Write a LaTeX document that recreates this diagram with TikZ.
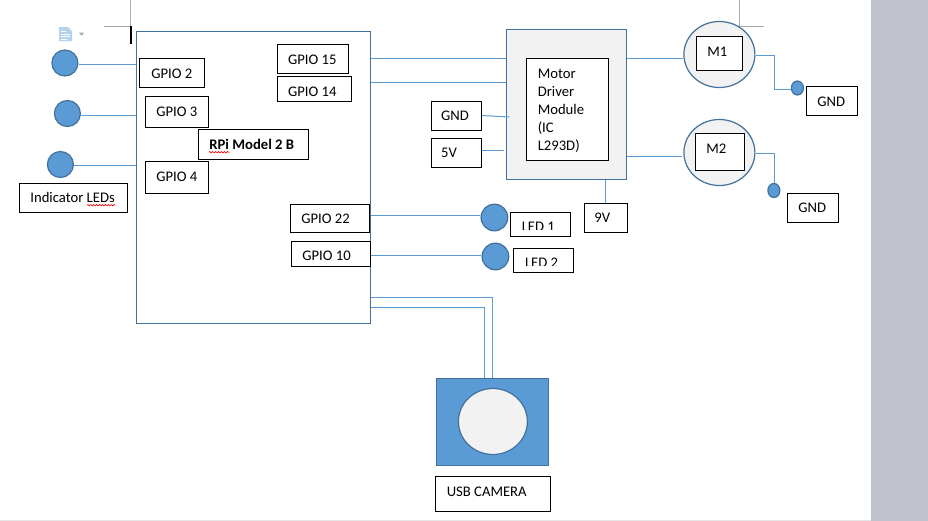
\documentclass[tikz,border=0pt]{standalone}
\usepackage{fontspec}
\setmainfont{Carlito}
\usetikzlibrary{decorations.pathmorphing,shapes.geometric}
\definecolor{wirec}{HTML}{5B9BD5}
\definecolor{edgec}{HTML}{41719C}
\definecolor{panel}{HTML}{F2F2F2}
\definecolor{sidebar}{HTML}{BFC2CC}
\definecolor{markc}{HTML}{ABABAB}
\tikzset{
  labelbox/.style={draw=black,line width=0.75pt,fill=white,inner sep=0pt,anchor=north west},
  txt/.style={inner sep=0pt,anchor=base west,xshift=0.3pt,yshift=-0.5pt,font=\fontsize{11pt}{13pt}\selectfont,text=black},
  wire/.style={draw=wirec,line width=0.75pt},
  panelbox/.style={draw=edgec,line width=0.9pt,fill=panel,inner sep=0pt,anchor=north west},
  dot/.style={ellipse,draw=edgec,line width=0.9pt,fill=wirec,inner sep=0pt},
  squig/.style={draw=red,line width=0.5pt,decorate,decoration={snake,amplitude=0.5pt,segment length=2.2pt}},
  pagemark/.style={draw=markc,line width=0.75pt}
}
% name, x1, y1, x2, y2 (pixels)
\newcommand{\pbox}[6][labelbox]{%
  \pgfmathsetmacro{\bw}{(#5-#3)*0.75}\pgfmathsetmacro{\bh}{(#6-#4)*0.75}%
  \node[#1,minimum width=\bw pt,minimum height=\bh pt] (#2) at (#3,#4) {};}
\newcommand{\ptext}[3]{\node[txt] at (#1,#2) {#3};}
\begin{document}
\begin{tikzpicture}[x=0.75pt,y=-0.75pt]
\useasboundingbox (0,0) rectangle (928,521);
\fill[white] (0,0) rectangle (928,521);
\fill[sidebar] (871,0) rectangle (928,521);
\fill[black!10] (0,519.5) rectangle (871,521);
\begin{scope}[shift={(-0.6,-0.3)}]
% page marks
\draw[pagemark] (131,0) -- (131,26.8) -- (105,26.8);
\draw[pagemark] (740,0) -- (740,26.8) -- (765,26.8);
\draw[black,line width=1.5pt] (131.4,26) -- (131.4,44);
% paste icon
\fill[wirec!45] (59.6,27.5) -- (68.6,27.5) -- (72.6,31.5) -- (72.6,41.5) -- (59.6,41.5) -- cycle;
\draw[white,line width=0.6pt] (61.6,32) -- (66.6,32) (61.6,34.5) -- (70.6,34.5) (61.6,37) -- (70.6,37) (61.6,39.5) -- (67.6,39.5);
\fill[black!35] (79.6,33) -- (84.6,33) -- (82.1,36) -- cycle;
% main board
\pbox[panelbox,fill=white]{rpi}{136.5}{31.5}{370.5}{323}
\pbox{gp2}{140}{58.5}{204.5}{87.5}
\pbox{gp3}{145.5}{96.5}{208.5}{127}
\pbox{model}{198.5}{129.5}{308.5}{159}
\pbox{gp4}{145.5}{161.5}{208.5}{193}
\pbox{gp15}{277.5}{44.5}{348.5}{73.5}
\pbox{gp14}{277.5}{76.5}{351.5}{101.5}
\pbox{gp22}{290.5}{204.5}{369.5}{232.5}
\pbox{gp10}{291.5}{241.5}{370.5}{266.5}
\pbox{ind}{19.5}{183.5}{127.5}{212}
\ptext{151.3}{78}{GPIO 2}
\ptext{156.3}{116}{GPIO 3}
\ptext{156.3}{181}{GPIO 4}
\ptext{209.3}{148.7}{\textbf{RPi Model 2 B}}
\ptext{288}{64}{GPIO 15}
\ptext{288}{96}{GPIO 14}
\ptext{301.3}{223}{GPIO 22}
\ptext{302.3}{260}{GPIO 10}
\ptext{30.3}{201.7}{Indicator LEDs}
\draw[squig] (209.5,152.5) -- (230,152.5);
\draw[squig] (87.5,205.5) -- (116,205.5);
% indicator LEDs
\node[dot,minimum width=19.5pt,minimum height=19.5pt] (c1) at (65.5,63.3) {};
\node[dot,minimum width=19.5pt,minimum height=19.5pt] (c2) at (68,113.8) {};
\node[dot,minimum width=19.5pt,minimum height=19.5pt] (c3) at (61,164.8) {};
\coordinate (y1) at (0,64.8);\coordinate (y2) at (0,115.8);\coordinate (y3) at (0,165.8);
\draw[wire] (c1.east |- y1) -- (rpi.west |- y1);
\draw[wire] (c2.east |- y2) -- (rpi.west |- y2);
\draw[wire] (c3.east |- y3) -- (rpi.west |- y3);
% driver
\pbox[panelbox]{drv}{506.5}{29.5}{626.5}{179.5}
\pbox{ic}{526.5}{58.5}{608.5}{160.5}
\ptext{537.7}{78}{Motor}
\ptext{537.7}{96}{Driver}
\ptext{537.7}{114}{Module}
\ptext{537.7}{132}{(IC}
\ptext{537.7}{150}{L293D)}
\coordinate (y15) at (0,58.8);\coordinate (y14) at (0,82.8);
\draw[wire] (rpi.east |- y15) -- (drv.west |- y15);
\draw[wire] (rpi.east |- y14) -- (drv.west |- y14);
\pbox{gnd}{431.5}{101.5}{481.5}{130}
\pbox{fivev}{431.5}{138.5}{481.5}{167}
\ptext{441}{120}{GND}
\ptext{441}{157}{5V}
\coordinate (gndin) at (510,117.3);\coordinate (yg) at (0,115.8);
\coordinate (fiveout) at (483,150.8);\coordinate (fivein) at (505,150.8);
\draw[wire] (gnd.east |- yg) -- (gndin);
\draw[wire] (fiveout) -- (fivein);
\pbox{ninev}{584.5}{203.5}{627.5}{232.5}
\ptext{594.3}{222}{9V}
\coordinate (x9) at (606.1,0);
\draw[wire] (drv.south -| x9) -- (ninev.north -| x9);
% output LEDs
\node[dot,minimum width=20pt,minimum height=20pt] (l1) at (495,217.8) {};
\node[dot,minimum width=20pt,minimum height=20pt] (l2) at (496,256.8) {};
\coordinate (y22) at (0,215.8);\coordinate (y10) at (0,255.8);
\draw[wire] (rpi.east |- y22) -- (l1.west |- y22);
\draw[wire] (rpi.east |- y10) -- (l2.west |- y10);
\pbox{lbl1}{510.5}{212.5}{570.5}{236}
\pbox{lbl2}{513.5}{248.5}{573.5}{272.5}
\begin{scope}
\clip (511,213) rectangle (570,229.6);
\ptext{521.7}{231.2}{LED 1}
\end{scope}
\begin{scope}
\clip (514,249) rectangle (573,265.5);
\ptext{525}{267}{LED 2}
\end{scope}
% motors
\node[ellipse,draw=edgec,line width=0.9pt,fill=panel,inner sep=0pt,minimum width=53.25pt,minimum height=49.5pt] (m1) at (720,54.8) {};
\node[ellipse,draw=edgec,line width=0.9pt,fill=panel,inner sep=0pt,minimum width=53.25pt,minimum height=49.5pt] (m2) at (720,152.8) {};
\pbox{m1l}{696.5}{36.5}{742.5}{70.5}
\pbox{m2l}{695.5}{133.5}{744.5}{170.5}
\ptext{707.3}{56}{M1}
\ptext{706.3}{153}{M2}
\coordinate (ym1) at (0,58.8);\coordinate (ym2) at (0,156.8);
\coordinate (m1in) at (684,58.8);\coordinate (m2in) at (683,156.8);
\draw[wire] (drv.east |- ym1) -- (m1in);
\draw[wire] (drv.east |- ym2) -- (m2in);
\node[dot,minimum width=9pt,minimum height=10.5pt] (d1) at (798,88.3) {};
\node[dot,minimum width=9pt,minimum height=10.5pt] (d2) at (774.5,190.8) {};
\coordinate (k1) at (775.1,55.8);\coordinate (k2) at (775.1,89.8);\coordinate (k3) at (775.1,153.8);
\draw[wire] (m1.east |- k1) -- (k1) -- (k2) -- (d1.west |- k2);
\draw[wire] (m2.east |- k3) -- (k3) -- (d2.north -| k3);
\pbox{g1}{806.5}{86.5}{857.5}{115.5}
\pbox{g2}{787.5}{193.5}{838.5}{222}
\ptext{817.3}{105.7}{GND}
\ptext{798.3}{211.7}{GND}
% camera
\pbox[panelbox,fill=wirec]{cam}{436.5}{378.5}{548.5}{465.5}
\node[ellipse,draw=edgec,line width=0.9pt,fill=panel,inner sep=0pt,minimum width=51.75pt,minimum height=49.5pt] (lens) at (493.5,421.8) {};
\pbox{camlbl}{435.5}{476.5}{550.5}{511.5}
\ptext{446.7}{496}{USB CAMERA}
\coordinate (u1) at (493.1,297.8);\coordinate (u2) at (485.1,307.8);
\draw[wire] (rpi.east |- u1) -- (u1) -- (u1 |- cam.north);
\draw[wire] (rpi.east |- u2) -- (u2) -- (u2 |- cam.north);
\end{scope}
\end{tikzpicture}
\end{document}
